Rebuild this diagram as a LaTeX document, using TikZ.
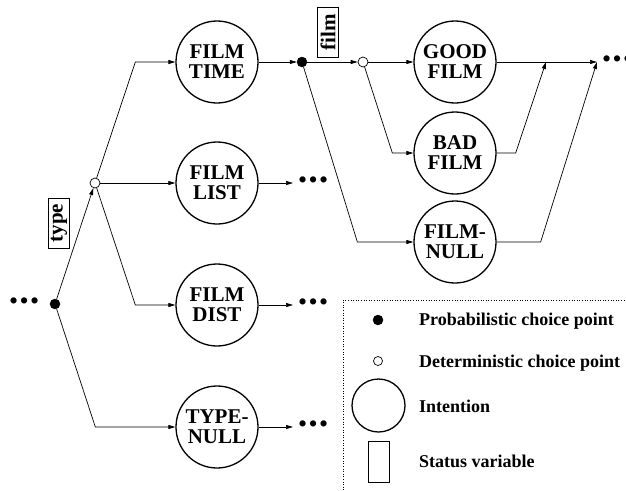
\documentclass[tikz,border=0pt]{standalone}
\usepackage{fontspec}
\setmainfont{Liberation Serif}
\usetikzlibrary{positioning, calc, arrows.meta}

\begin{document}
\begin{tikzpicture}[
    x=1pt, y=-1pt,
    font=\bfseries,
    intention/.style={circle, draw, line width=1.3pt, minimum size=82pt, inner sep=0pt, align=center, font=\fontsize{21}{20}\selectfont\bfseries},
    probpt/.style={circle, draw, fill=black, minimum size=10pt, inner sep=0pt},
    detpt/.style={circle, draw, fill=white, line width=0.7pt, minimum size=10pt, inner sep=0pt},
    statusvar/.style={draw, line width=0.6pt, rotate=90, minimum width=50pt, minimum height=21pt, inner sep=1pt, font=\fontsize{21}{20}\selectfont\bfseries},
    etc/.style={anchor=west, inner sep=0pt, font=\fontsize{26}{26}\selectfont},
    flow/.style={-{Triangle[length=7pt,width=4pt]}, line width=0.7pt},
    legendtext/.style={anchor=base west, inner sep=0pt, font=\fontsize{18}{18}\selectfont\bfseries}
  ]
  \useasboundingbox (0,0) rectangle (626,490);
  \newcommand{\etcdots}{\textbullet\hspace{1.4pt}\textbullet\hspace{1.4pt}\textbullet}

  % Choice points and intentions
  \node[etc] (in) at (9,304) {\etcdots};
  \node[probpt] (p1) at (55,304) {};
  \node[detpt] (d1) at (95,183) {};
  \node[statusvar] (type) at (59,223) {type};
  \node[intention] (time) at (217,62) {FILM\\TIME};
  \node[intention] (list) at (217,183) {FILM\\LIST};
  \node[intention] (dist) at (217,305) {FILM\\DIST};
  \node[intention] (tnull) at (217,427) {TYPE-\\NULL};
  \node[probpt] (p2) at (302,62) {};
  \node[statusvar] (film) at (328,32) {film};
  \node[detpt] (d2) at (363,62) {};
  \node[intention] (good) at (455,62) {GOOD\\FILM};
  \node[intention] (bad) at (455,153) {BAD\\FILM};
  \node[intention] (fnull) at (455,242) {FILM-\\NULL};
  \coordinate (j1) at (546,62);
  \coordinate (j2) at (597,62);

  % Continuations
  \node[etc] (outlist) at (298,183) {\etcdots};
  \node[etc] (outdist) at (298,305) {\etcdots};
  \node[etc] (outtnull) at (298,427) {\etcdots};
  \node[etc] (outgood) at (602,62) {\etcdots};

  % Connectors
  \draw[flow] (p1) -- (d1);
  \draw[flow] (d1) -- ($(time.west)+(-40,0)$) -- (time);
  \draw[flow] (d1) -- (list);
  \draw[flow] (d1) -- ($(dist.west)+(-40,0)$) -- (dist);
  \draw[flow] (p1) -- ($(tnull.west)+(-80,0)$) -- (tnull);
  \draw[flow, shorten >=5pt] (list) -- (outlist);
  \draw[flow, shorten >=5pt] (dist) -- (outdist);
  \draw[flow, shorten >=5pt] (tnull) -- (outtnull);
  \draw[flow] (time) -- (p2);
  \draw[flow] (p2) -- (d2);
  \draw[flow] (d2) -- (good);
  \draw[flow] (d2) -- ($(bad.west)+(-21,0)$) -- (bad);
  \draw[flow] (p2) -- ($(fnull.west)+(-56,0)$) -- (fnull);
  \draw[flow] (good) -- (j2);
  \draw[flow] (bad) -- ($(bad.east)+(19,0)$) -- (j1);
  \draw[flow] (fnull) -- ($(fnull.east)+(44,0)$) -- (j2);

  % Legend
  \draw[dotted, line width=0.6pt] (343,490) -- (343,300) -- (626,300);
  \node[probpt] (lp) at (378,320) {};
  \node[detpt, minimum size=9pt] (ld) at (378,361) {};
  \node[intention, minimum size=53pt] (li) at (378.5,405.5) {};
  \node[draw, line width=0.6pt, minimum width=21pt, minimum height=41pt, inner sep=0pt] (ls) at (378.5,461.5) {};
  \node[legendtext] (lpt) at (419,325) {Probabilistic choice point};
  \node[legendtext] (ldt) at (419,367) {Deterministic choice point};
  \node[legendtext] (lit) at (419,412) {Intention};
  \node[legendtext] (lst) at (419,467) {Status variable};
\end{tikzpicture}
\end{document}
